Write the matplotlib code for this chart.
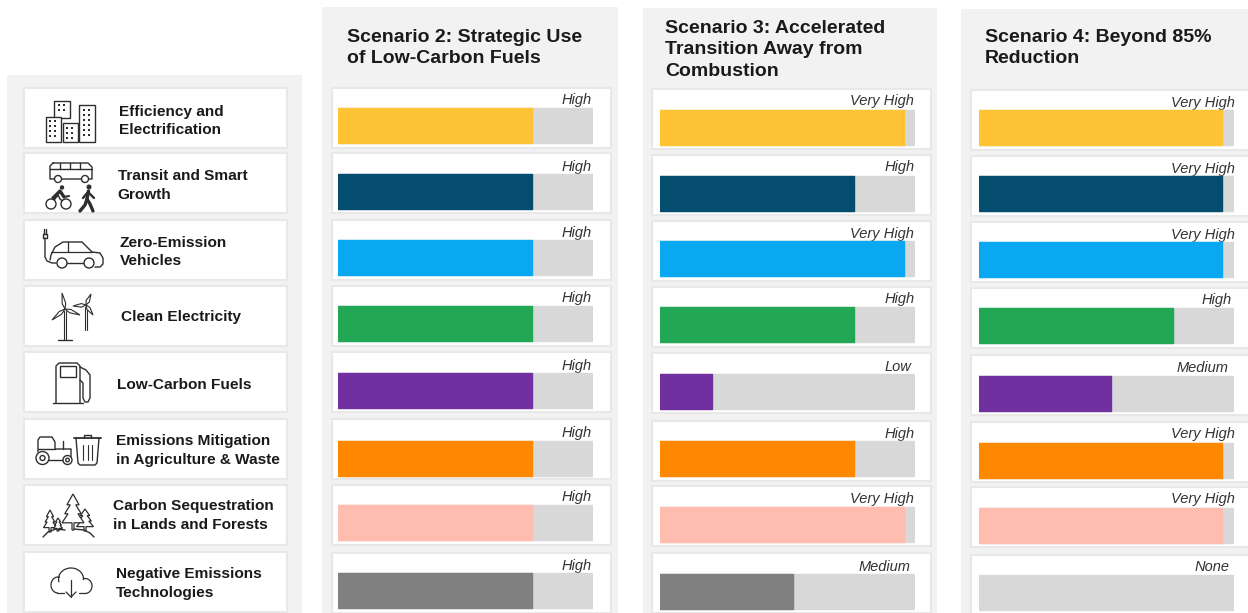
import numpy as np
import matplotlib
matplotlib.use('Agg')
import matplotlib.pyplot as plt
from matplotlib.patches import Rectangle, Circle, Arc

plt.rcParams['font.family'] = ['Liberation Sans', 'DejaVu Sans']

W, H = 1248, 613

# ---------- data ----------
categories = ['Efficiency and\nElectrification', 'Transit and Smart\nGrowth', 'Zero-Emission\nVehicles',
              'Clean Electricity', 'Low-Carbon Fuels', 'Emissions Mitigation\nin Agriculture & Waste',
              'Carbon Sequestration\nin Lands and Forests', 'Negative Emissions\nTechnologies']
colors = ['#FFC435', '#044D6E', '#0AA8F0', '#22A855', '#7030A0', '#FF8800', '#FFBDB0', '#808080']

# level shown as share of the grey track
level_share = {'None': 0.0, 'Low': 0.205, 'Medium': 0.52, 'High': 0.762, 'Very High': 0.955}

titles = ['Scenario 2: Strategic Use\nof Low-Carbon Fuels',
          'Scenario 3: Accelerated\nTransition Away from\nCombustion',
          'Scenario 4: Beyond 85%\nReduction']
s2_levels = ['High', 'High', 'High', 'High', 'High', 'High', 'High', 'High']
s3_levels = ['Very High', 'High', 'Very High', 'High', 'Low', 'High', 'Very High', 'Medium']
s4_levels = ['Very High', 'Very High', 'Very High', 'High', 'Medium', 'Very High', 'Very High', 'None']

# ---------- layout in pixels ----------
left_tops = [88, 153, 220, 286, 352, 419, 485, 552]
left_text_x = [119, 117.5, 120, 121, 117, 116, 113, 116]
left_text_y = [121, 185.5, 252, 317, 385, 450.5, 515.5, 583.5]

panels = [
    dict(bg=(322, 7, 618), frame_x=(332, 611), track=(338, 592.5), title=(347, 48),
         lab_x=[591.5] * 8,
         frames=[88, 153, 220, 286, 352, 419, 485, 553],
         tracks=[108, 174, 240, 306, 373, 441, 505, 573],
         labs=[100, 167, 233, 298, 366, 433, 497, 566], levels=s2_levels),
    dict(bg=(643, 8, 937), frame_x=(652, 931), track=(660, 915), title=(665, 50),
         lab_x=[913.5, 914.5, 913.5, 914.5, 911, 914.5, 913.5, 910.5],
         frames=[89, 155, 221, 287, 353, 421, 486, 553],
         tracks=[110, 176, 241, 307, 374, 441, 507, 574],
         labs=[101, 167, 234, 299, 367, 434, 499, 567], levels=s3_levels),
    dict(bg=(961, 9, 1250), frame_x=(971, 1252), track=(979, 1233.5), title=(985, 48),
         lab_x=[1234.5, 1234.5, 1234.5, 1232, 1228.5, 1234.5, 1234.5, 1229.5],
         frames=[90, 156, 222, 288, 355, 422, 487, 555],
         tracks=[110, 176, 242, 308, 376, 443, 508, 575],
         labs=[103, 169, 235, 300, 368, 434, 499, 567], levels=s4_levels),
]

BG = '#F2F2F2'
EDGE = '#E8E8E8'
TRACK = '#D8D8D8'
INK = '#2E2E2E'

fig = plt.figure(figsize=(W / 100, H / 100), dpi=100)
ax = fig.add_axes([0, 0, 1, 1])
ax.set_xlim(0, W)
ax.set_ylim(H, 0)
ax.axis('off')


def box(x0, y0, x1, y1, fc, ec='none', lw=0, z=1):
    ax.add_patch(Rectangle((x0, y0), x1 - x0, y1 - y0, fc=fc, ec=ec, lw=lw, zorder=z))


def line(xs, ys, lw=1.0, c=INK):
    ax.plot(xs, ys, color=c, lw=lw, solid_capstyle='round', solid_joinstyle='round', zorder=5)


def ring(x, y, r, lw=1.0):
    ax.add_patch(Circle((x, y), r, fc='white', ec=INK, lw=lw, zorder=6))


def dots(x0, y0, nx, ny, dx, dy):
    xx, yy = np.meshgrid(x0 + np.arange(nx) * dx, y0 + np.arange(ny) * dy)
    ax.scatter(xx.ravel(), yy.ravel(), s=3, color=INK, marker='s', linewidths=0, zorder=6)


def buildings():
    for x0, y0, x1, y1 in [(54, 101, 70, 118), (46, 117, 61, 142), (63, 123, 78, 142), (79, 105, 95, 142)]:
        box(x0, y0, x1, y1, 'white', INK, 1.0, 5)
    dots(59, 105, 2, 2, 5, 5)
    dots(50, 121, 2, 4, 5, 5)
    dots(67, 128, 2, 3, 5, 5)
    dots(84, 110, 2, 6, 5, 5)


def transit():
    line([53, 88, 92, 92, 89, 50, 50, 53], [163, 163, 167, 179, 179, 179, 166, 163])
    line([50, 92], [169, 169])
    for x in [60, 70, 80]:
        line([x, x], [163, 169])
    ring(58, 179, 3.5)
    ring(85, 179, 3.5)
    ring(51, 204, 5)
    ring(66, 204, 5)
    ax.add_patch(Circle((62, 187.5), 2.2, fc=INK, ec='none', zorder=6))
    line([51, 58, 60, 66], [204, 195, 199, 204], lw=1.1)
    line([53, 60, 64], [198, 191, 197], lw=2.4)
    line([64, 69], [197, 196], lw=1.5)
    ax.add_patch(Circle((89, 187), 2.5, fc=INK, ec='none', zorder=6))
    line([88.5, 87, 90, 93], [191, 199, 204, 211], lw=2.4)
    line([87, 85, 80], [199, 205, 211], lw=2.4)
    line([83, 88, 94], [198, 192, 198], lw=1.7)


def car():
    line([43, 43, 47, 47, 43], [238, 234, 234, 238, 238])
    line([44, 44], [229, 234])
    line([46, 46], [229, 234])
    line([45, 45, 47, 52, 56], [238, 257, 261, 263, 263])
    xs = [50, 51, 55, 63, 82, 92, 100, 103, 103, 100, 95]
    ys = [260, 255, 247, 242, 242, 252, 253, 258, 264, 267, 267]
    line(xs, ys)
    line([51, 92], [252, 252], lw=0.9)
    line([68, 68], [242, 252], lw=0.9)
    line([67, 84], [263, 263])
    ring(62, 263, 5)
    ring(89, 263, 5)


def turbine(hx, hy, base, tips):
    line([hx - 1.3, hx - 1.3], [hy + 2, base], lw=0.8)
    line([hx + 1.3, hx + 1.3], [hy + 2, base], lw=0.8)
    for tx, ty in tips:
        d = np.array([tx - hx, ty - hy])
        n = np.array([-d[1], d[0]]) / np.hypot(*d) * 1.8
        m = np.array([hx, hy]) + d * 0.35
        ax.fill([hx, m[0] + n[0], tx, m[0] - n[0]], [hy, m[1] + n[1], ty, m[1] - n[1]],
                fc='white', ec=INK, lw=0.8, zorder=5)


def turbines():
    turbine(65, 309, 340, [(62, 293), (52, 320), (80, 315)])
    turbine(86, 305, 330, [(91, 294), (73, 306), (93, 315)])
    line([58, 72], [340, 340])


def pump():
    line([56, 56, 59, 77, 80, 80], [403, 366, 363, 363, 366, 403])
    line([53, 83], [403, 403])
    box(60, 366, 76, 377, 'white', INK, 1.0, 5)
    line([80, 86, 90, 90, 88, 85, 83, 83, 80], [367, 370, 375, 398, 402, 402, 398, 383, 380])


def tractor_bin():
    line([38, 38, 40, 52, 55, 55, 71, 71], [452, 440, 437, 437, 442, 449, 449, 459])
    line([38, 55], [449, 449])
    line([48, 63], [460, 460])
    line([63, 63], [441, 449])
    ring(42.5, 458, 6.5)
    ring(42.5, 458, 2.5)
    ring(67.5, 460, 4.5)
    ring(67.5, 460, 1.8)
    line([74, 101], [438, 438], lw=1.3)
    line([84, 84, 91, 91], [438, 434.5, 434.5, 438])
    line([76, 78, 80, 95, 97, 99], [438, 463, 465, 465, 463, 438])
    for x in [83, 87.5, 92]:
        line([x, x], [445, 460], lw=0.8)


def tree(cx, top, bottom, half):
    h = bottom - top
    xs = [cx, cx + half * 0.55, cx + half * 0.25, cx + half * 0.75, cx + half * 0.45, cx + half,
          cx + 1, cx + 1, cx - 1, cx - 1, cx - half, cx - half * 0.45, cx - half * 0.75, cx - half * 0.25, cx - half * 0.55]
    ys = [top, top + h * .3, top + h * .3, top + h * .55, top + h * .55, top + h * .8,
          top + h * .8, bottom, bottom, top + h * .8, top + h * .8, top + h * .55, top + h * .55, top + h * .3, top + h * .3]
    ax.fill(xs, ys, fc='white', ec=INK, lw=0.9, zorder=5)


def trees():
    tree(85, 509, 531, 8.5)
    tree(73, 494, 530, 11)
    tree(50, 510, 532, 6.5)
    tree(58, 518, 531, 4.5)
    line([43, 48, 56, 65], [537, 532, 529, 530], lw=1.0)
    line([74, 84, 90, 94], [529, 530, 533, 537], lw=1.0)


def cloud():
    for cx, cy, w, h, a, b in [(58, 585, 14, 16, 90, 285), (71, 579, 25, 22, 165, 365),
                               (85, 586, 14, 15, 255, 90)]:
        ax.add_patch(Arc((cx, cy), w, h, theta1=a, theta2=b, ec=INK, lw=0.9, zorder=6))
    line([71, 71], [580, 597], lw=0.9)
    line([66, 71, 76], [592, 597, 592], lw=0.9)
    line([57, 64], [593, 593], lw=0.9)
    line([79, 85], [593, 593], lw=0.9)


# ---------- left column ----------
box(7, 75, 302, 613, BG, z=0)
for top, label, tx, ty in zip(left_tops, categories, left_text_x, left_text_y):
    box(23.5, top, 287, top + 60, 'white', EDGE, 1.5)
    ax.text(tx, ty, label, ha='left', va='center', fontsize=11.1, fontweight='bold',
            color='#1A1A1A', linespacing=1.38, zorder=6)
for icon in [buildings, transit, car, turbines, pump, tractor_bin, trees, cloud]:
    icon()

# ---------- scenario panels ----------
for p, title in zip(panels, titles):
    box(p['bg'][0], p['bg'][1], p['bg'][2], H + 2, BG, z=0)
    ax.text(p['title'][0], p['title'][1], title, ha='left', va='center', fontsize=14,
            fontweight='bold', color='#1A1A1A', linespacing=1.38, zorder=6)
    for top in p['frames']:
        box(p['frame_x'][0], top, p['frame_x'][1], top + 60, 'white', EDGE, 1.5)

    x0, x1 = p['track']
    bar_ax = fig.add_axes([x0 / W, 0, (x1 - x0) / W, 1], zorder=3)
    bar_ax.set_xlim(0, 1)
    bar_ax.set_ylim(H, 0)
    bar_ax.axis('off')
    bar_ax.patch.set_alpha(0)
    y = np.array(p['tracks']) + 17.5
    shares = [level_share[lev] for lev in p['levels']]
    bar_ax.barh(y, [1] * 8, height=35, color=TRACK, edgecolor=TRACK, linewidth=1, joinstyle='round')
    for yy, s, c in zip(y, shares, colors):
        if s > 0:
            bar_ax.barh(yy, s, height=35, color=c, edgecolor=c, linewidth=1, joinstyle='round')
    for lev, lx, ly in zip(p['levels'], p['lab_x'], p['labs']):
        ax.text(lx, ly, lev, ha='right', va='center', fontsize=10.5, style='italic',
                color='#333333', zorder=6)

fig.savefig('out.png', dpi=100)
